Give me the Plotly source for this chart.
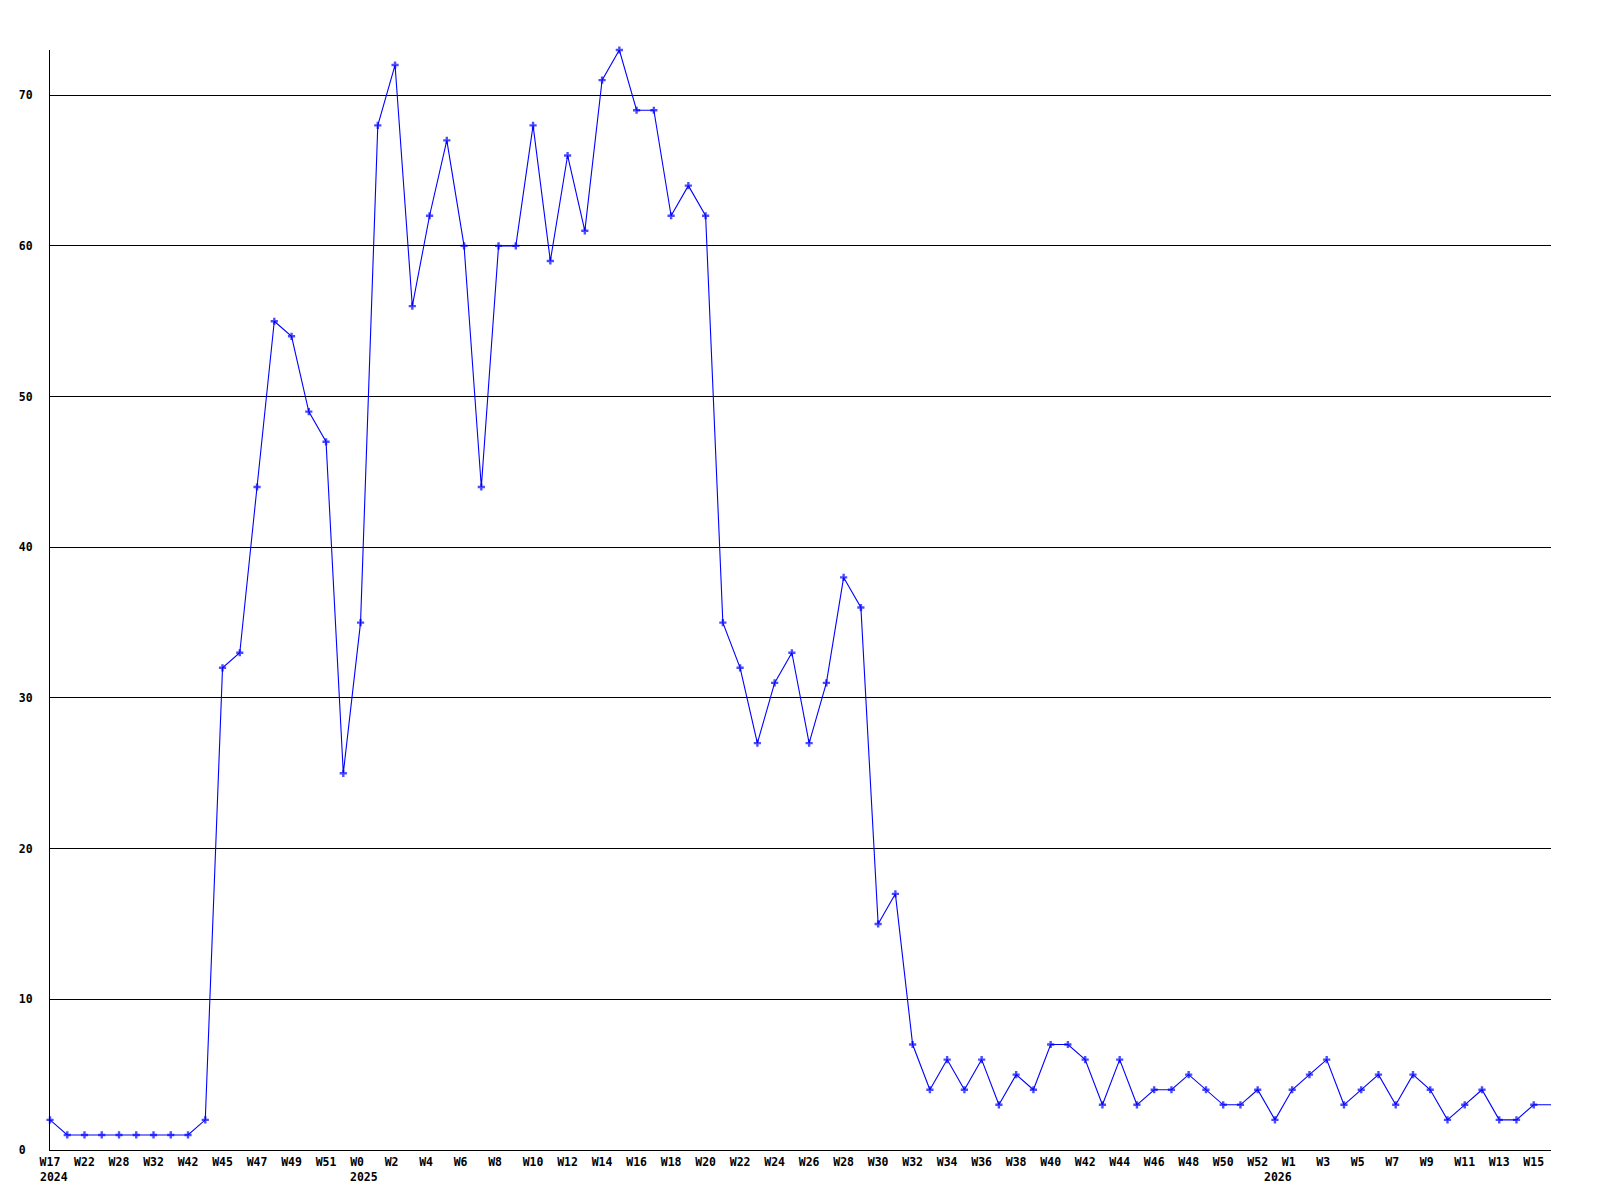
import plotly.graph_objects as go

# weekly counts, one point per reported week
weeks = [
    "W17", "W19", "W22", "W25", "W28", "W30", "W32", "W37", "W42", "W44",
    "W45", "W46", "W47", "W48", "W49", "W50", "W51", "W52",
    "W0", "W1", "W2", "W3", "W4", "W5", "W6", "W7", "W8", "W9",
    "W10", "W11", "W12", "W13", "W14", "W15", "W16", "W17", "W18", "W19",
    "W20", "W21", "W22", "W23", "W24", "W25", "W26", "W27", "W28", "W29",
    "W30", "W31", "W32", "W33", "W34", "W35", "W36", "W37", "W38", "W39",
    "W40", "W41", "W42", "W43", "W44", "W45", "W46", "W47", "W48", "W49",
    "W50", "W51", "W52",
    "W0", "W1", "W2", "W3", "W4", "W5", "W6", "W7", "W8", "W9",
    "W10", "W11", "W12", "W13", "W14", "W15", "W16",
]
years = ["2024"] * 18 + ["2025"] * 53 + ["2026"] * 17

hits = [
    2, 1, 1, 1, 1, 1, 1, 1, 1, 2,
    32, 33, 44, 55, 54, 49, 47, 25, 35, 68,
    72, 56, 62, 67, 60, 44, 60, 60, 68, 59,
    66, 61, 71, 73, 69, 69, 62, 64, 62, 35,
    32, 27, 31, 33, 27, 31, 38, 36, 15, 17,
    7, 4, 6, 4, 6, 3, 5, 4, 7, 7,
    6, 3, 6, 3, 4, 4, 5, 4, 3, 3,
    4, 2, 4, 5, 6, 3, 4, 5, 3, 5,
    4, 2, 3, 4, 2, 2, 3, 3,
]

y_ticks = [0, 10, 20, 30, 40, 50, 60, 70]

FONT = dict(family="DejaVu Sans Mono", size=11.5, color="black", weight="bold")
NB = "\u00a0"

x = list(range(len(hits)))

# every other week gets a label, padded so short ones sit like the long ones
tick_idx = x[::2]
tick_txt = [weeks[i] + NB * (3 - len(weeks[i])) for i in tick_idx]

# last point is drawn without a marker
sizes = [6] * (len(hits) - 1) + [0]

trace = go.Scatter(
    x=x, y=hits,
    mode="lines+markers",
    line=dict(color="#0000ff", width=1.1),
    marker=dict(symbol="cross", size=sizes, color="#0000ff", line_width=0),
    cliponaxis=False,
    hoverinfo="y",
)

# year label under the first point of each year
annotations = []
for i, yr in enumerate(years):
    if i == 0 or years[i - 1] != yr:
        annotations.append(dict(
            x=i, y=0, xref="x", yref="paper",
            text=yr, showarrow=False,
            xanchor="left", yanchor="top",
            xshift=-12.5, yshift=-18,
            font=FONT,
        ))

fig = go.Figure(data=[trace])
# page body adds 8px, so margins are trimmed on the top/left
fig.update_layout(
    width=1600, height=1200,
    margin=dict(l=42, r=57, t=42, b=58),
    paper_bgcolor="white", plot_bgcolor="white",
    showlegend=False,
    font=FONT,
    annotations=annotations,
    xaxis=dict(
        range=[0, len(hits) - 1],
        tickvals=tick_idx, ticktext=tick_txt,
        tickangle=0, ticks="",
        showgrid=False, zeroline=False,
        showline=True, linecolor="black", linewidth=1,
        tickfont=FONT,
        ticklabelstandoff=1,
    ),
    yaxis=dict(
        range=[0, max(hits)],
        tickvals=y_ticks,
        ticktext=[str(v) + NB * (2 - len(str(v))) for v in y_ticks],
        ticks="",
        showgrid=True, gridcolor="black", gridwidth=1,
        zeroline=False,
        showline=True, linecolor="black", linewidth=1,
        tickfont=FONT,
        ticklabelstandoff=14,
    ),
)

fig.write_html("out.html")
